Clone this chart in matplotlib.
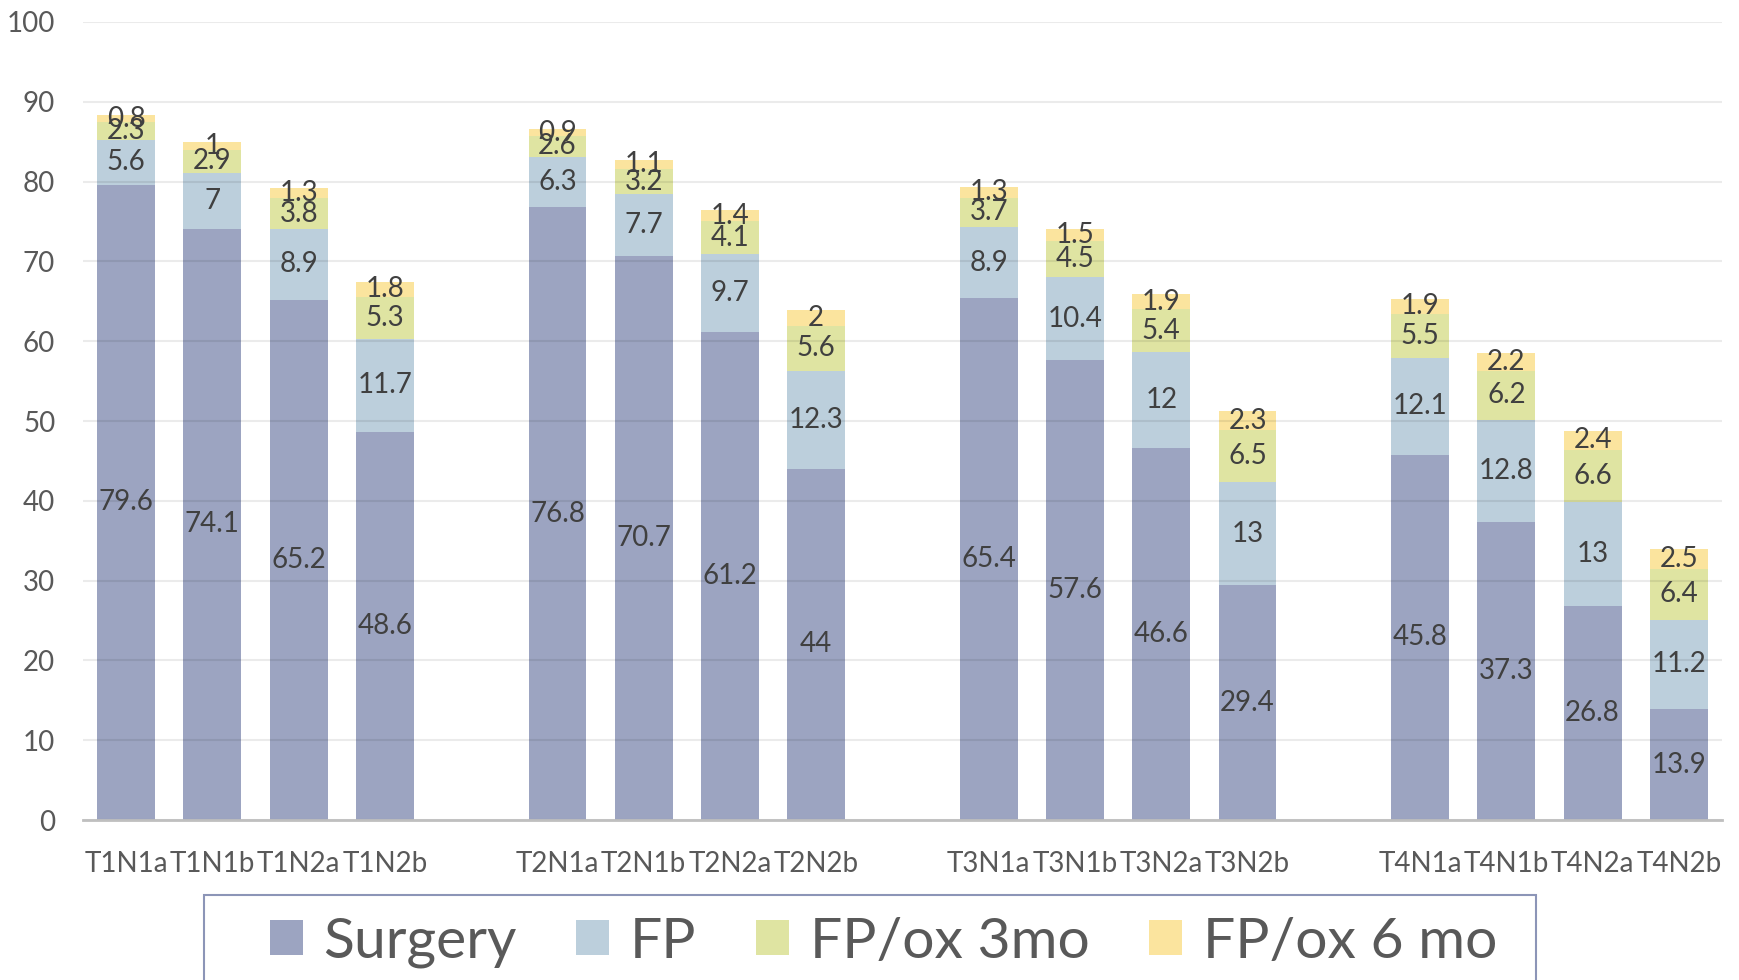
import numpy as np
import matplotlib
matplotlib.use('Agg')
import matplotlib.pyplot as plt
from matplotlib.patches import Rectangle

plt.rcParams['font.family'] = ['Lato', 'DejaVu Sans']

# Stages and the four treatment series (stacked)
stages = ['T1N1a', 'T1N1b', 'T1N2a', 'T1N2b',
          'T2N1a', 'T2N1b', 'T2N2a', 'T2N2b',
          'T3N1a', 'T3N1b', 'T3N2a', 'T3N2b',
          'T4N1a', 'T4N1b', 'T4N2a', 'T4N2b']
surgery = [79.6, 74.1, 65.2, 48.6, 76.8, 70.7, 61.2, 44,
           65.4, 57.6, 46.6, 29.4, 45.8, 37.3, 26.8, 13.9]
fp = [5.6, 7, 8.9, 11.7, 6.3, 7.7, 9.7, 12.3,
      8.9, 10.4, 12, 13, 12.1, 12.8, 13, 11.2]
fp_ox_3mo = [2.3, 2.9, 3.8, 5.3, 2.6, 3.2, 4.1, 5.6,
             3.7, 4.5, 5.4, 6.5, 5.5, 6.2, 6.6, 6.4]
fp_ox_6mo = [0.8, 1, 1.3, 1.8, 0.9, 1.1, 1.4, 2,
             1.3, 1.5, 1.9, 2.3, 1.9, 2.2, 2.4, 2.5]

series = [('Surgery', surgery, '#9ca4c1'),
          ('FP', fp, '#bccfdc'),
          ('FP/ox 3mo', fp_ox_3mo, '#dfe4a2'),
          ('FP/ox 6 mo', fp_ox_6mo, '#fbe49e')]

# four bars per T group, one empty slot between groups
x = np.array([g * 5 + i for g in range(4) for i in range(4)])

fig = plt.figure(figsize=(17.4, 9.8), dpi=100)
ax = fig.add_axes([83 / 1740, 1 - 820 / 980, (1722 - 83) / 1740, (820 - 22) / 980])

bottom = np.zeros(len(stages))
for name, vals, col in series:
    vals = np.array(vals, dtype=float)
    ax.bar(x, vals, 0.67, bottom=bottom, color=col, label=name, zorder=2)
    for xi, b, v in zip(x, bottom, vals):
        ax.text(xi, b + v / 2, f'{v:g}', ha='center', va='center',
                fontsize=20, color='#404040', zorder=4)
    bottom += vals

ax.set_xlim(-0.5, 18.5)
ax.set_ylim(0, 100)
ax.set_yticks(range(0, 101, 10))
ax.set_xticks(x)
ax.set_xticklabels(stages)
ax.tick_params(axis='both', length=0, labelsize=20, colors='#595959')
ax.tick_params(axis='y', pad=20)
ax.tick_params(axis='x', pad=22)

for s in ['top', 'right', 'left']:
    ax.spines[s].set_visible(False)
ax.spines['bottom'].set_color('#bfbfbf')
ax.spines['bottom'].set_linewidth(2)
ax.spines['bottom'].set_zorder(5)

ax.grid(axis='y', color='black', alpha=0.08, linewidth=1.5, zorder=3)
ax.set_axisbelow(False)

# legend box runs off the bottom edge
box_top = 1 - 895 / 980
fig.add_artist(Rectangle((204 / 1740, -0.05), (1536 - 204) / 1740, box_top + 0.05,
                         transform=fig.transFigure, facecolor='none',
                         edgecolor='#8c95b7', linewidth=1.5))
fig.legend(loc='upper left', bbox_to_anchor=(248 / 1740, box_top),
           ncol=4, fontsize=41, frameon=False,
           borderaxespad=0, borderpad=0.38, handlelength=0.58,
           handleheight=0.58, handletextpad=0.36, columnspacing=1.05,
           labelcolor='#595959')

fig.savefig('out.png', dpi=100)
